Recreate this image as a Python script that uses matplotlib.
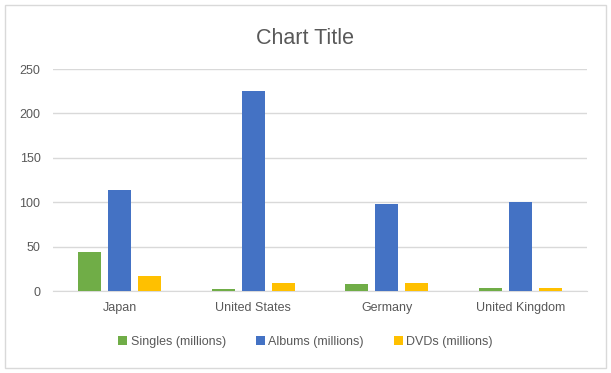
import numpy as np
import matplotlib
matplotlib.use('Agg')
import matplotlib.pyplot as plt
from matplotlib.patches import Rectangle

countries = ['Japan', 'United States', 'Germany', 'United Kingdom']
singles = [43.5, 2, 7.5, 3]
albums = [114, 225, 98.5, 100]
dvds = [17, 9, 9, 3]

plt.rcParams['font.family'] = ['Liberation Sans', 'DejaVu Sans']
grey = '#595959'

fig = plt.figure(figsize=(6.11, 3.73), dpi=100)
ax = fig.add_axes([53/611, 1-291/373, 534/611, 222/373])

x = np.arange(len(countries))
w = 0.17
step = 0.225
ax.bar(x - step, singles, w, color='#70AD47', label='Singles (millions)', zorder=3)
ax.bar(x, albums, w, color='#4472C4', label='Albums (millions)', zorder=3)
ax.bar(x + step, dvds, w, color='#FFC000', label='DVDs (millions)', zorder=3)

ax.set_xlim(-0.5, 3.5)
ax.set_ylim(0, 250)
ax.set_yticks(range(0, 251, 50))
ax.set_xticks(x)
ax.set_xticklabels(countries)
ax.yaxis.grid(True, color='#D9D9D9', lw=1, zorder=0)
for s in ['top', 'right', 'left']:
	ax.spines[s].set_visible(False)
ax.spines['bottom'].set_color('#D9D9D9')
ax.tick_params(axis='both', length=0, colors=grey, labelsize=9)
ax.tick_params(axis='x', pad=8)
ax.tick_params(axis='y', pad=9)

fig.text(0.5, 1-38/373, 'Chart Title', ha='center', va='center', fontsize=15.5, color=grey)
fig.legend(loc='center', bbox_to_anchor=(0.5, 1-342/373), ncol=3, frameon=False,
	fontsize=9, labelcolor=grey, handlelength=0.7, handleheight=0.7,
	handletextpad=0.3, columnspacing=2.4)

fig.patches.append(Rectangle((5/611, 5/373), 601/611, 363/373, transform=fig.transFigure,
	fill=False, edgecolor='#D9D9D9', lw=1))

plt.savefig('out.png', dpi=100)
